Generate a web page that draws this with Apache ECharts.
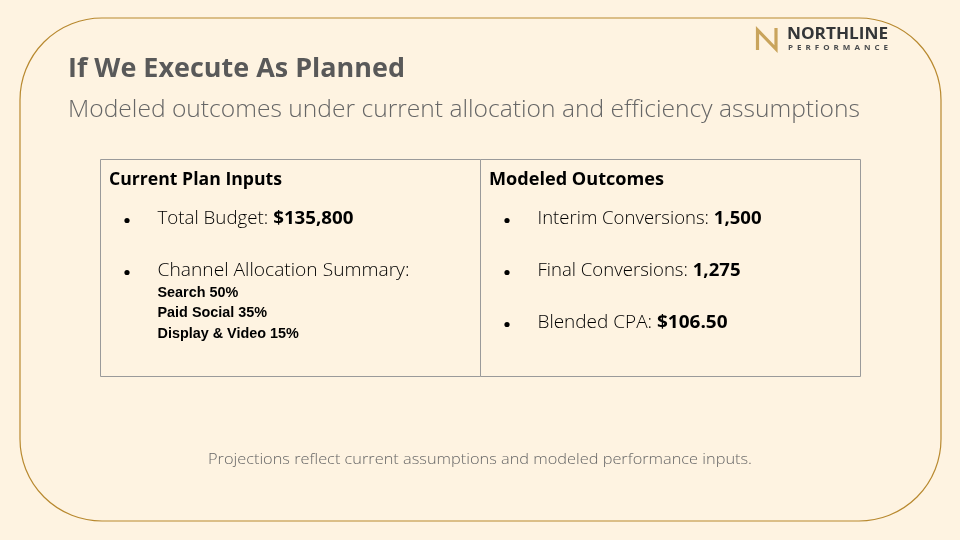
<!DOCTYPE html>
<html><head><meta charset="utf-8">
<script src="https://cdn.jsdelivr.net/npm/echarts@6/dist/echarts.min.js"></script>
<style>html,body{margin:0;padding:0;background:#FEF3E1}#c{width:960px;height:540px}</style>
</head><body><div id="c"></div>
<script>
const title = 'If We Execute As Planned';
const subtitle = 'Modeled outcomes under current allocation and efficiency assumptions';
const leftHeader = 'Current Plan Inputs';
const rightHeader = 'Modeled Outcomes';
const leftLabels = ['Total Budget: ', 'Channel Allocation Summary:'];
const leftValues = ['$135,800', ''];
const channelNames = ['Search', 'Paid Social', 'Display & Video'];
const channelShares = [50, 35, 15];
const rightLabels = ['Interim Conversions: ', 'Final Conversions: ', 'Blended CPA: '];
const rightValues = ['1,500', '1,275', '$106.50'];
const footnote = 'Projections reflect current assumptions and modeled performance inputs.';
const brandTop = 'NORTHLINE';
const brandBottom = 'PERFORMANCE';

const chart = echarts.init(document.getElementById('c'), null, {renderer: 'canvas'});
const F = '"Open Sans", Lato, sans-serif';
const A = '"Liberation Sans", Arial, sans-serif';
const ctx = document.createElement('canvas').getContext('2d');
function mw(font, t){ ctx.font = font; return ctx.measureText(t).width; }
const g = [];
// plain text fitted horizontally to a layout width
function txt(x, y, text, font, fill, target, align){
  const s = target ? target / mw(font, text) : 1;
  g.push({type:'text', x:x, y:y, scaleX:s, originX:0, originY:0,
    style:{x:0, y:0, text:text, font:font, fill:fill, verticalAlign:'middle', align:align || 'left'}});
}
// frame
g.push({type:'rect', shape:{x:20, y:18, width:921, height:503, r:82}, style:{fill:'#FEF3E1', stroke:'#B8892F', lineWidth:1.2}});
// logo
g.push({type:'polyline', shape:{points:[[757.5,50],[757.5,30],[776,49],[776,28]]}, style:{stroke:'#C9A45C', lineWidth:3.2, fill:null}});
txt(787, 34.5, brandTop, 'bold 16px ' + F, '#343638', 101);
txt(788, 48, brandBottom.split('').join('\u2002'), 'bold 7.5px ' + F, '#4a4c4e', 100);
// title
txt(68, 69.5, title, 'bold 27px ' + F, '#595959', 337);
txt(68, 110, subtitle, '300 23px ' + F, '#666666', 792);
// table
g.push({type:'rect', shape:{x:100.5, y:159.5, width:760, height:217}, style:{fill:'none', stroke:'#9a9a9a', lineWidth:1}});
g.push({type:'line', shape:{x1:480.5, y1:159.5, x2:480.5, y2:376.5}, style:{stroke:'#9a9a9a', lineWidth:1}});
txt(109, 180, leftHeader, 'bold 17.5px ' + F, '#000', 173);
txt(489, 180, rightHeader, 'bold 17.5px ' + F, '#000', 175);
const fn = '300 18px ' + F, fb = 'bold 18px ' + F;
const rich = {n:{fontFamily:F, fontSize:18, fontWeight:300, fill:'#000'}, b:{fontFamily:F, fontSize:18, fontWeight:'bold', fill:'#000'}};
function bullet(x, y, label, val, target){
  g.push({type:'circle', shape:{cx:x, cy:y + 1.5, r:2.6}, style:{fill:'#000'}});
  const width = mw(fn, label) + (val ? mw(fb, val) : 0);
  g.push({type:'text', x:x + 30.5, y:y, scaleX:target / width, originX:0, originY:0,
    style:{x:0, y:0, text:'{n|' + label + '}' + (val ? '{b|' + val + '}' : ''), rich:rich, verticalAlign:'middle'}});
}
const ys = [219, 271, 323];
const leftW = [196, 252];
const rightW = [224, 203, 190];
leftLabels.forEach((l,i)=>bullet(127, ys[i], l, leftValues[i], leftW[i]));
rightLabels.forEach((l,i)=>bullet(507, ys[i], l, rightValues[i], rightW[i]));
channelNames.forEach((c,i)=>{
  txt(157.5, 293 + i*20.5, c + ' ' + channelShares[i] + '%', 'bold 14.4px ' + A, '#000');
});
txt(480, 460, footnote, '300 15px ' + F, '#666666', 544, 'center');
chart.setOption({backgroundColor:'#FEF3E1', animation:false, graphic:g});
</script></body></html>
